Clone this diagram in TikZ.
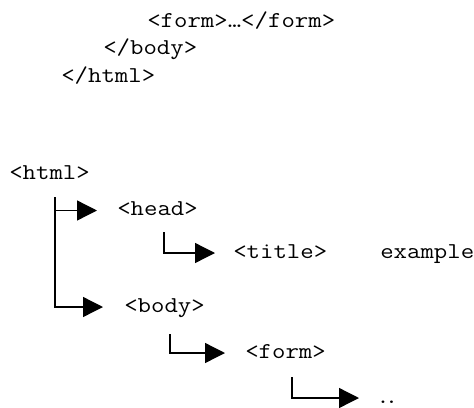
\documentclass[tikz,border=0pt]{standalone}
\usepackage{fontspec}
\setmonofont{Latin Modern Mono}[FakeStretch=1.15]
\usepackage{tikz}
\usetikzlibrary{arrows.meta}

\tikzset{
  tag/.style={anchor=west, inner sep=0pt, text height=7.5pt, text depth=0pt,
    font=\fontsize{17}{20}\selectfont\ttfamily},
  branch/.style={-{Triangle[length=15pt,width=15pt]}, line width=1pt, shorten >=15pt},
}

\begin{document}
\begin{tikzpicture}[x=0.75pt,y=0.75pt,yscale=-1]
\useasboundingbox (0,0) rectangle (474,407);

% closing tags
\node[tag] (endform) at (147,22) {<form>\textellipsis</form>};
\node[tag] (endbody) at (103,49) {</body>};
\node[tag] (endhtml) at (61,77) {</html>};

% tree
\node[tag] (html) at (9,174) {<html>};
\node[tag] (head) at (117,210.5) {<head>};
\node[tag] (title) at (233,253) {<title>};
\node[tag] (example) at (380,253) {example};
\node[tag] (body) at (124,307) {<body>};
\node[tag] (form) at (245,353) {<form>};
\node[tag] (dots) at (376,398) {.\kern-3.6pt.};

% branch roots
\coordinate (htmlroot) at (55,197);
\coordinate (headroot) at (164,232);
\coordinate (bodyroot) at (170,334);
\coordinate (formroot) at (292,377);

\draw[branch] (htmlroot) |- (head);
\draw[branch, shorten >=15.75pt] (htmlroot) |- (body);
\draw[branch, shorten >=13.5pt] (headroot) |- (title);
\draw[branch] (bodyroot) |- (form);
\draw[branch, shorten >=12.75pt] (formroot) |- (dots);

\end{tikzpicture}
\end{document}
